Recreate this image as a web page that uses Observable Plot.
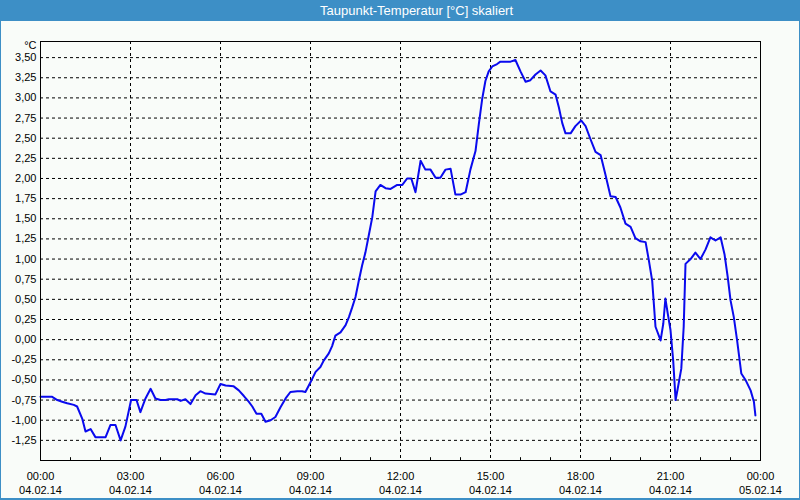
<!DOCTYPE html>
<html>
<head>
<meta charset="utf-8">
<script src="https://cdn.jsdelivr.net/npm/d3@7"></script>
<script src="https://cdn.jsdelivr.net/npm/@observablehq/plot@0.6"></script>
<style>
  body { margin: 0; background: #ffffff; }
  #wrap { position: relative; width: 800px; height: 500px; background: #f9fcf9; overflow: hidden; font-family: "Liberation Sans", Arial, sans-serif; }
  #chart { position: absolute; left: 0; top: 0; }
  #bar { position: absolute; left: 0; top: 0; width: 800px; height: 21px; background: #3d8fc6; }
  #title { position: absolute; left: 320px; top: 3px; color: #ffffff; font-size: 13px; white-space: nowrap; }
  #border { position: absolute; left: 0; top: 0; width: 800px; height: 500px; box-sizing: border-box; border: 1px solid #3d8fc6; border-bottom-width: 2px; pointer-events: none; }
</style>
</head>
<body>
<div id="wrap">
  <div id="chart"></div>
  <div id="bar"><div id="title">Taupunkt-Temperatur [°C] skaliert</div></div>
  <div id="border"></div>
</div>
<script>
// Time of day in hours (04.02.14 00:00 = 0, 05.02.14 00:00 = 24)
const hours = [
  0.00, 0.39, 0.56, 0.72, 0.89, 1.11, 1.22, 1.39, 1.50, 1.67, 1.83, 2.17, 2.33, 2.50, 2.67, 2.83,
  3.02, 3.20, 3.33, 3.50, 3.67, 3.83, 4.00, 4.17, 4.28, 4.56, 4.67, 4.83, 5.00, 5.17, 5.33, 5.50,
  5.83, 6.00, 6.17, 6.44, 6.61, 6.78, 6.94, 7.06, 7.20, 7.36, 7.50, 7.67, 7.83, 8.00, 8.17, 8.33,
  8.56, 8.72, 8.83, 9.00, 9.17, 9.33, 9.44, 9.61, 9.72, 9.83, 10.00, 10.17, 10.28, 10.39, 10.50,
  10.61, 10.72, 10.83, 10.94, 11.06, 11.17, 11.33, 11.50, 11.67, 11.89, 12.06, 12.22, 12.36, 12.50,
  12.67, 12.83, 13.00, 13.17, 13.33, 13.50, 13.67, 13.83, 14.00, 14.17, 14.33, 14.50, 14.61, 14.72,
  14.83, 14.94, 15.06, 15.22, 15.33, 15.50, 15.67, 15.83, 16.00, 16.17, 16.33, 16.50, 16.67, 16.83,
  17.00, 17.17, 17.28, 17.39, 17.50, 17.67, 17.83, 18.02, 18.17, 18.33, 18.50, 18.67, 18.83, 19.00,
  19.17, 19.33, 19.50, 19.67, 19.83, 20.00, 20.17, 20.28, 20.39, 20.50, 20.67, 20.76, 20.83, 20.91,
  21.00, 21.09, 21.17, 21.24, 21.36, 21.44, 21.50, 21.67, 21.83, 22.00, 22.17, 22.33, 22.50, 22.67,
  22.80, 22.91, 23.00, 23.11, 23.22, 23.36, 23.50, 23.67, 23.78, 23.83
];
// Dew point temperature in °C
const dewpoint = [
  -0.71, -0.71, -0.75, -0.77, -0.79, -0.81, -0.83, -0.98, -1.14, -1.11, -1.21, -1.21, -1.06, -1.06, -1.25, -1.08,
  -0.75, -0.75, -0.90, -0.73, -0.61, -0.73, -0.75, -0.75, -0.74, -0.74, -0.76, -0.74, -0.80, -0.69, -0.64, -0.67,
  -0.68, -0.55, -0.57, -0.58, -0.63, -0.70, -0.77, -0.83, -0.92, -0.92, -1.02, -1.00, -0.96, -0.84, -0.73, -0.65,
  -0.64, -0.64, -0.65, -0.53, -0.40, -0.34, -0.26, -0.17, -0.08, 0.05, 0.09, 0.18, 0.28, 0.40, 0.53,
  0.73, 0.92, 1.08, 1.29, 1.52, 1.84, 1.92, 1.88, 1.87, 1.92, 1.92, 2.00, 2.00, 1.83,
  2.22, 2.11, 2.11, 2.01, 2.01, 2.11, 2.12, 1.80, 1.80, 1.83, 2.11, 2.34, 2.67, 2.98,
  3.21, 3.33, 3.39, 3.42, 3.45, 3.45, 3.45, 3.47, 3.33, 3.20, 3.22, 3.29, 3.34, 3.28,
  3.08, 3.04, 2.88, 2.69, 2.56, 2.56, 2.65, 2.72, 2.65, 2.49, 2.33, 2.29, 2.05, 1.78,
  1.77, 1.64, 1.44, 1.40, 1.26, 1.22, 1.21, 0.98, 0.73, 0.16, -0.01, 0.20, 0.51, 0.32,
  0.12, -0.26, -0.75, -0.61, -0.36, 0.16, 0.94, 1.00, 1.08, 1.00, 1.12, 1.27, 1.23, 1.27,
  1.06, 0.77, 0.49, 0.28, -0.01, -0.42, -0.50, -0.63, -0.77, -0.94
];
const yTicks = [-1.25, -1.00, -0.75, -0.50, -0.25, 0.00, 0.25, 0.50, 0.75, 1.00, 1.25, 1.50, 1.75, 2.00, 2.25, 2.50, 2.75, 3.00, 3.25, 3.50];
const xTicks = [0, 3, 6, 9, 12, 15, 18, 21, 24];
const xTimeLabels = ["00:00", "03:00", "06:00", "09:00", "12:00", "15:00", "18:00", "21:00", "00:00"];
const xDateLabels = ["04.02.14", "04.02.14", "04.02.14", "04.02.14", "04.02.14", "04.02.14", "04.02.14", "04.02.14", "05.02.14"];
const hourTicks = [1, 2, 4, 5, 7, 8, 10, 11, 13, 14, 16, 17, 19, 20, 22, 23];
const yUnit = ["°C"];

const data = hours.map((h, i) => ({h, v: dewpoint[i]}));
const fmtY = d => d.toFixed(2).replace(".", ",");
const fmtX = d => { const i = xTicks.indexOf(d); return xTimeLabels[i] + "\n" + xDateLabels[i]; };

const chart = Plot.plot({
  width: 800,
  height: 500,
  marginLeft: 40,
  marginRight: 40,
  marginTop: 41,
  marginBottom: 40,
  style: {background: "transparent", fontFamily: "Liberation Sans, Arial, sans-serif", fontSize: "11px", color: "#000"},
  x: {domain: [0, 24]},
  y: {domain: [-1.5, 3.7]},
  marks: [
    Plot.gridY(yTicks, {stroke: "#000", strokeOpacity: 1, strokeDasharray: "3,3"}),
    Plot.gridX(xTicks.slice(1, -1), {stroke: "#000", strokeOpacity: 1, strokeDasharray: "3,3"}),
    Plot.ruleX(hourTicks, {x: d => d, y1: -1.5, y2: -1.465, stroke: "#000"}),
    Plot.axisY({ticks: yTicks, tickFormat: fmtY, tickSize: 0, tickPadding: 4, label: null, fontSize: 11}),
    Plot.axisX({ticks: xTicks, tickFormat: fmtX, tickSize: 0, tickPadding: 10, label: null, fontSize: 11, lineHeight: 1.27}),
    Plot.text(yUnit, {text: d => d, frameAnchor: "top-left", dx: -4, dy: 4, textAnchor: "end", lineAnchor: "middle", fontSize: 11}),
    Plot.line(data, {x: "h", y: "v", stroke: "#0a0aee", strokeWidth: 2, strokeLinejoin: "round"}),
    Plot.frame({stroke: "#000", strokeWidth: 1})
  ]
});
document.getElementById("chart").appendChild(chart);
</script>
</body>
</html>
